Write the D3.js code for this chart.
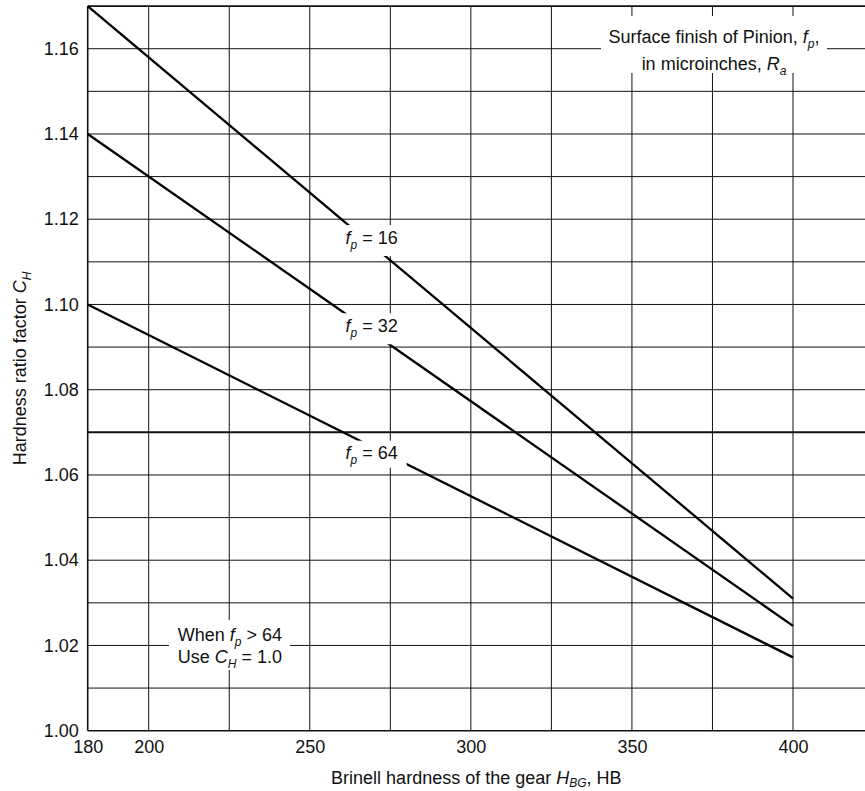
<!DOCTYPE html>
<html>
<head>
<meta charset="utf-8">
<script src="https://cdn.jsdelivr.net/npm/d3@7"></script>
<style>
  html, body { margin: 0; padding: 0; background: #fff; }
  svg { display: block; }
  text { font-family: "Liberation Sans", Arial, Helvetica, sans-serif; fill: #111; }
</style>
</head>
<body>
<svg id="chart" width="865" height="791"></svg>
<script>
// ---- data ----
const hardness = [180, 400];                 // Brinell hardness of the gear, HB
const fp16 = [1.170, 1.031];
const fp32 = [1.140, 1.0246];
const fp64 = [1.100, 1.0172];
const seriesNames = ["16", "32", "64"];
const xTickValues = [180, 200, 250, 300, 350, 400];
const xGridValues = [200, 225, 250, 275, 300, 325, 350, 375, 400];
const yTickValues = [1.00, 1.02, 1.04, 1.06, 1.08, 1.10, 1.12, 1.14, 1.16];
const yGridValues = [1.01, 1.02, 1.03, 1.04, 1.05, 1.06, 1.07, 1.08, 1.09, 1.10,
                     1.11, 1.12, 1.13, 1.14, 1.15, 1.16];
// label anchors (data space): [HB, CH]
const labelAnchors = [[269.2, 1.1143], [269.2, 1.0936], [269.2, 1.0637]];

const W = 865, H = 791;
const svg = d3.select("#chart");

const x = d3.scaleLinear().domain([180, 200, 400]).range([87.7, 148.7, 793]);
const y = d3.scaleLinear().domain([1.00, 1.17]).range([730.7, 6.1]);
const pLeft = x(180), pRight = W, pTop = y(1.17), pBottom = y(1.00);

// grid
const grid = svg.append("g").attr("stroke", "#111").attr("stroke-width", 1);
grid.selectAll("line.v").data(xGridValues).join("line").attr("class", "v")
  .attr("x1", d => x(d)).attr("x2", d => x(d))
  .attr("y1", pTop).attr("y2", pBottom);
grid.selectAll("line.h").data(yGridValues).join("line").attr("class", "h")
  .attr("x1", pLeft).attr("x2", pRight)
  .attr("y1", d => y(d)).attr("y2", d => y(d))
  .attr("stroke-width", d => Math.abs(d - 1.07) < 1e-9 ? 2 : 1);

// frame
const frame = svg.append("g").attr("stroke", "#111").attr("stroke-width", 1.6).attr("fill", "none");
frame.append("line").attr("x1", pLeft).attr("x2", pRight).attr("y1", pTop).attr("y2", pTop);
frame.append("line").attr("x1", pLeft).attr("x2", pRight).attr("y1", pBottom).attr("y2", pBottom);
frame.append("line").attr("x1", pLeft).attr("x2", pLeft).attr("y1", pTop).attr("y2", pBottom);

// data lines
const allSeries = [fp16, fp32, fp64];
const line = d3.line().x((d, i) => x(hardness[i])).y(d => y(d));
svg.append("g").selectAll("path").data(allSeries).join("path")
  .attr("d", d => line(d))
  .attr("fill", "none").attr("stroke", "#000").attr("stroke-width", 2.3);

// series labels with white boxes
const labG = svg.append("g");
seriesNames.forEach((name, i) => {
  const cx = x(labelAnchors[i][0]), by = y(labelAnchors[i][1]);
  labG.append("rect").attr("x", cx - 32).attr("y", by - 18.5)
    .attr("width", i === 2 ? 67 : 63).attr("height", i === 2 ? 27 : 31).attr("fill", "#fff");
  const t = labG.append("text").attr("x", cx).attr("y", by)
    .attr("text-anchor", "middle").attr("font-size", 18);
  t.append("tspan").attr("font-style", "italic").text("f");
  t.append("tspan").attr("font-style", "italic").attr("font-size", 12).attr("dy", 5).text("p");
  t.append("tspan").attr("dy", -5).text(" = " + name);
});

// top-right note
const note = svg.append("g");
note.append("rect").attr("x", 601).attr("y", 16).attr("width", 226).attr("height", 57).attr("fill", "#fff");
const n1 = note.append("text").attr("x", 714).attr("y", 42.5).attr("text-anchor", "middle").attr("font-size", 18);
n1.append("tspan").text("Surface finish of Pinion, ");
n1.append("tspan").attr("font-style", "italic").text("f");
n1.append("tspan").attr("font-style", "italic").attr("font-size", 12).attr("dy", 5).text("p");
n1.append("tspan").attr("dy", -5).text(",");
const n2 = note.append("text").attr("x", 714).attr("y", 70).attr("text-anchor", "middle").attr("font-size", 18);
n2.append("tspan").text("in microinches, ");
n2.append("tspan").attr("font-style", "italic").text("R");
n2.append("tspan").attr("font-style", "italic").attr("font-size", 12).attr("dy", 5).text("a");

// bottom-left note
const bl = svg.append("g");
bl.append("rect").attr("x", 169).attr("y", 620).attr("width", 121).attr("height", 50).attr("fill", "#fff");
const b1 = bl.append("text").attr("x", 229.9).attr("y", 640.7).attr("text-anchor", "middle").attr("font-size", 18);
b1.append("tspan").text("When ");
b1.append("tspan").attr("font-style", "italic").text("f");
b1.append("tspan").attr("font-style", "italic").attr("font-size", 12).attr("dy", 5).text("p");
b1.append("tspan").attr("dy", -5).text(" > 64");
const b2 = bl.append("text").attr("x", 229.9).attr("y", 663.3).attr("text-anchor", "middle").attr("font-size", 18);
b2.append("tspan").text("Use ");
b2.append("tspan").attr("font-style", "italic").text("C");
b2.append("tspan").attr("font-style", "italic").attr("font-size", 12).attr("dy", 5).text("H");
b2.append("tspan").attr("dy", -5).text(" = 1.0");

// axes (labels only)
const xAxis = svg.append("g").attr("transform", `translate(0,${pBottom})`)
  .call(d3.axisBottom(x).tickValues(xTickValues).tickSize(0).tickPadding(8).tickFormat(d3.format("d")));
xAxis.select(".domain").remove();
xAxis.selectAll("text").attr("font-size", 18).attr("dy", "0.78em");
xAxis.attr("font-family", null).attr("font-size", null);

const yAxis = svg.append("g").attr("transform", `translate(${pLeft},0)`)
  .call(d3.axisLeft(y).tickValues(yTickValues).tickSize(0).tickPadding(9).tickFormat(d3.format(".2f")));
yAxis.select(".domain").remove();
yAxis.selectAll("text").attr("font-size", 18);
yAxis.attr("font-family", null).attr("font-size", null);

// axis titles
const xt = svg.append("text").attr("x", (pLeft + pRight) / 2).attr("y", 783.5)
  .attr("text-anchor", "middle").attr("font-size", 18);
xt.append("tspan").text("Brinell hardness of the gear ");
xt.append("tspan").attr("font-style", "italic").text("H");
xt.append("tspan").attr("font-style", "italic").attr("font-size", 12).attr("dy", 3.5).text("BG");
xt.append("tspan").attr("dy", -3.5).text(", HB");

const yt = svg.append("text").attr("transform", `translate(26,${(pTop + pBottom) / 2}) rotate(-90)`)
  .attr("text-anchor", "middle").attr("font-size", 18);
yt.append("tspan").text("Hardness ratio factor ");
yt.append("tspan").attr("font-style", "italic").text("C");
yt.append("tspan").attr("font-style", "italic").attr("font-size", 12).attr("dy", 5).text("H");
</script>
</body>
</html>
